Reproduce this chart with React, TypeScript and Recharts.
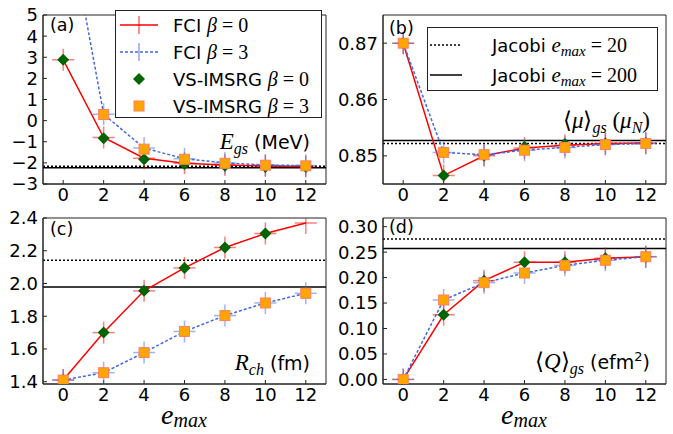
import React from 'react';
import { LineChart, Line, XAxis, YAxis, ReferenceLine, ReferenceArea, Legend } from 'recharts';

const emax = [0, 2, 4, 6, 8, 10, 12];

// (a) E_gs (MeV)
const egsFci0 = [2.88, -0.8, -1.78, -2.02, -2.1, -2.15, -2.17];
const egsFci3 = [10.7, 0.3, -1.3, -1.8, -2.0, -2.1, -2.13];
const egsIm0 = [2.88, -0.83, -1.83, -2.05, -2.14, -2.19, -2.19];
const egsIm3 = [10.7, 0.29, -1.35, -1.83, -2.02, -2.11, -2.14];
const egsJacobi = [-2.16, -2.23];
const egsTicks = [-3, -2, -1, 0, 1, 2, 3, 4, 5];

// (b) <mu>_gs (mu_N)
const muFci0 = [0.87, 0.8465, 0.85, 0.8514, 0.8519, 0.8522, 0.8523];
const muFci3 = [0.87, 0.8506, 0.8502, 0.851, 0.8515, 0.852, 0.8522];
const muIm0 = [0.87, 0.8465, 0.85, 0.8516, 0.8521, 0.8522, 0.8523];
const muIm3 = [0.87, 0.8506, 0.8502, 0.851, 0.8515, 0.852, 0.8522];
const muJacobi = [0.8522, 0.8527];
const muTicks = [0.85, 0.86, 0.87];

// (c) R_ch (fm)
const rchFci0 = [1.41, 1.7, 1.955, 2.095, 2.22, 2.305, 2.37];
const rchFci3 = [1.41, 1.455, 1.578, 1.707, 1.804, 1.881, 1.94];
const rchIm0 = [1.41, 1.7, 1.955, 2.095, 2.22, 2.305, null];
const rchIm3 = [1.41, 1.455, 1.578, 1.707, 1.804, 1.881, 1.94];
const rchJacobi = [2.142, 1.978];
const rchTicks = [1.4, 1.6, 1.8, 2.0, 2.2, 2.4];

// (d) <Q>_gs (efm^2)
const qFci0 = [0, 0.127, 0.194, 0.23, 0.23, 0.238, 0.241];
const qFci3 = [0, 0.156, 0.19, 0.209, 0.224, 0.234, 0.241];
const qIm0 = [0, 0.127, 0.194, 0.23, 0.23, 0.238, 0.241];
const qIm3 = [0, 0.156, 0.19, 0.209, 0.224, 0.234, 0.241];
const qJacobi = [0.276, 0.257];
const qTicks = [0, 0.05, 0.1, 0.15, 0.2, 0.25, 0.3];

const RED = '#ff0000';
const BLUE = '#4169e1';
const GREEN = '#006400';
const ORANGE = '#ffa500';
const SANS = 'DejaVu Sans';
const SERIF = 'Liberation Serif';

const crossDot = (color: string) => (props: any) => {
  const { cx, cy } = props;
  if (cx == null || cy == null || isNaN(cx) || isNaN(cy)) return <g key={props.key} />;
  return (
    <g key={props.key}>
      <line x1={cx - 11} x2={cx + 11} y1={cy} y2={cy} stroke={color} strokeOpacity={0.5} strokeWidth={1.5} />
      <line x1={cx} x2={cx} y1={cy - 11} y2={cy + 11} stroke={color} strokeOpacity={0.5} strokeWidth={1.5} />
    </g>
  );
};

const diamondDot = (props: any) => {
  const { cx, cy } = props;
  if (cx == null || cy == null || isNaN(cx) || isNaN(cy)) return <g key={props.key} />;
  return (
    <polygon
      key={props.key}
      points={`${cx},${cy - 6} ${cx + 6},${cy} ${cx},${cy + 6} ${cx - 6},${cy}`}
      fill={GREEN}
    />
  );
};

const squareDot = (props: any) => {
  const { cx, cy } = props;
  if (cx == null || cy == null || isNaN(cx) || isNaN(cy)) return <g key={props.key} />;
  return <rect key={props.key} x={cx - 5} y={cy - 5} width={10} height={10} fill={ORANGE} stroke="#ff8060" strokeWidth={1} />;
};

function FciLegend() {
  const rows = [
    { label: 'FCI ', b: '0', kind: 'red' },
    { label: 'FCI ', b: '3', kind: 'blue' },
    { label: 'VS-IMSRG ', b: '0', kind: 'green' },
    { label: 'VS-IMSRG ', b: '3', kind: 'orange' },
  ];
  return (
    <svg width={207} height={108}>
      <rect x={0.5} y={0.5} width={206} height={107} fill="#fff" stroke="#222" />
      {rows.map((r, i) => {
        const y = 15 + i * 27;
        return (
          <g key={i}>
            {r.kind === 'red' && (
              <g>
                <line x1={5} x2={43} y1={y} y2={y} stroke={RED} strokeWidth={1.5} />
                <line x1={24} x2={24} y1={y - 9} y2={y + 9} stroke={RED} strokeOpacity={0.6} strokeWidth={1.5} />
              </g>
            )}
            {r.kind === 'blue' && (
              <g>
                <line x1={5} x2={43} y1={y} y2={y} stroke={BLUE} strokeWidth={1.5} strokeDasharray="3 2" />
                <line x1={24} x2={24} y1={y - 9} y2={y + 9} stroke={BLUE} strokeOpacity={0.6} strokeWidth={1.5} />
              </g>
            )}
            {r.kind === 'green' && diamondDot({ cx: 24, cy: y })}
            {r.kind === 'orange' && squareDot({ cx: 24, cy: y })}
            <text x={58} y={y + 6.5} fontSize={18} fontFamily={SANS} fill="#000">
              {r.label}
              <tspan fontFamily={SERIF} fontStyle="italic" fontSize={20}>β</tspan>
              <tspan fontFamily={SERIF} fontSize={20}>{' = ' + r.b}</tspan>
            </text>
          </g>
        );
      })}
    </svg>
  );
}

function JacobiLegend() {
  const rows = [
    { n: '20', dash: '2 2' },
    { n: '200', dash: undefined },
  ];
  return (
    <svg width={231} height={64}>
      <rect x={0.5} y={0.5} width={230} height={63} fill="#fff" stroke="#222" />
      {rows.map((r, i) => {
        const y = 18 + i * 30;
        return (
          <g key={i}>
            <line x1={3} x2={35} y1={y} y2={y} stroke="#000" strokeWidth={1.5} strokeDasharray={r.dash} />
            <text x={65} y={y + 6.5} fontSize={18} fontFamily={SANS} fill="#000">
              {'Jacobi '}
              <tspan fontFamily={SERIF} fontStyle="italic" fontSize={21}>e</tspan>
              <tspan fontFamily={SERIF} fontStyle="italic" fontSize={15} dy={4}>max</tspan>
              <tspan fontFamily={SERIF} fontSize={20} dy={-4}>{' = ' + r.n}</tspan>
            </text>
          </g>
        );
      })}
    </svg>
  );
}

type PanelProps = {
  left: number;
  top: number;
  width: number;
  height: number;
  yAxisWidth: number;
  margin: { top: number; right: number; bottom: number; left: number };
  fci0: (number | null)[];
  fci3: (number | null)[];
  im0: (number | null)[];
  im3: (number | null)[];
  jacobi: number[];
  yDomain: [number, number];
  yTicks: number[];
  fmt: (v: number) => string;
  legend?: React.ReactNode;
  legendPos?: { left: number; top: number; width: number; height: number };
};

const tickStyle = { fontSize: 18, fill: '#000', fontFamily: SANS };

function Panel(p: PanelProps) {
  const data = emax.map((x, i) => ({ x, fci0: p.fci0[i], fci3: p.fci3[i], im0: p.im0[i], im3: p.im3[i] }));
  return (
    <div style={{ position: 'absolute', left: p.left, top: p.top }}>
      <LineChart width={p.width} height={p.height} data={data} margin={p.margin}>
        <XAxis
          type="number"
          dataKey="x"
          domain={[-1, 13]}
          ticks={emax}
          interval={0}
          height={16}
          tickSize={-4}
          tickMargin={8}
          tick={tickStyle}
          axisLine={{ stroke: '#222' }}
          tickLine={{ stroke: '#222' }}
        />
        <YAxis
          type="number"
          domain={p.yDomain}
          ticks={p.yTicks}
          allowDataOverflow
          interval={0}
          width={p.yAxisWidth}
          tickSize={-4}
          tickMargin={9}
          tick={tickStyle}
          tickFormatter={p.fmt}
          axisLine={{ stroke: '#222' }}
          tickLine={{ stroke: '#222' }}
        />
        <ReferenceArea x1={-1} x2={13} y1={p.yDomain[0]} y2={p.yDomain[1]} fill="none" stroke="#222" ifOverflow="visible" />
        <ReferenceLine y={p.jacobi[0]} stroke="#000" strokeWidth={1.5} strokeDasharray="2 2" />
        <ReferenceLine y={p.jacobi[1]} stroke="#000" strokeWidth={1.5} />
        <Line dataKey="fci0" stroke={RED} strokeWidth={1.5} dot={crossDot(RED)} activeDot={false} isAnimationActive={false} />
        <Line dataKey="fci3" stroke={BLUE} strokeWidth={1.5} strokeDasharray="3 2" dot={crossDot(BLUE)} activeDot={false} isAnimationActive={false} />
        <Line dataKey="im0" stroke="none" dot={diamondDot} activeDot={false} isAnimationActive={false} />
        <Line dataKey="im3" stroke="none" dot={squareDot} activeDot={false} isAnimationActive={false} />
        {p.legend && p.legendPos && (
          <Legend
            layout="vertical"
            align="center"
            verticalAlign="middle"
            content={() => p.legend}
            wrapperStyle={{ left: p.legendPos.left, top: p.legendPos.top, width: p.legendPos.width, height: p.legendPos.height }}
          />
        )}
      </LineChart>
    </div>
  );
}

const fmtInt = (v: number) => (v < 0 ? '\u2212' + Math.abs(v) : String(v));

export default function App() {
  const topMargin = { top: 15, right: 14, bottom: 10, left: 0 };
  const topMarginR = { top: 15, right: 7, bottom: 10, left: 0 };
  const botMargin = { top: 18, right: 14, bottom: 34, left: 0 };
  const botMarginR = { top: 18, right: 7, bottom: 34, left: 0 };
  return (
    <div style={{ position: 'absolute', left: 0, top: 0, width: 673, height: 434, background: '#fff', overflow: 'hidden' }}>
      <Panel
        left={0} top={0} width={340} height={210} yAxisWidth={43} margin={topMargin}
        fci0={egsFci0} fci3={egsFci3} im0={egsIm0} im3={egsIm3} jacobi={egsJacobi}
        yDomain={[-3, 5]} yTicks={egsTicks} fmt={fmtInt}
        legend={<FciLegend />} legendPos={{ left: 115, top: 10, width: 207, height: 108 }}
      />
      <Panel
        left={330} top={0} width={343} height={210} yAxisWidth={53} margin={topMarginR}
        fci0={muFci0} fci3={muFci3} im0={muIm0} im3={muIm3} jacobi={muJacobi}
        yDomain={[0.845, 0.875]} yTicks={muTicks} fmt={(v) => v.toFixed(2)}
        legend={<JacobiLegend />} legendPos={{ left: 97, top: 27, width: 231, height: 64 }}
      />
      <Panel
        left={0} top={200} width={340} height={234} yAxisWidth={43} margin={botMargin}
        fci0={rchFci0} fci3={rchFci3} im0={rchIm0} im3={rchIm3} jacobi={rchJacobi}
        yDomain={[1.386, 2.4]} yTicks={rchTicks} fmt={(v) => v.toFixed(1)}
      />
      <Panel
        left={330} top={200} width={343} height={234} yAxisWidth={53} margin={botMarginR}
        fci0={qFci0} fci3={qFci3} im0={qIm0} im3={qIm3} jacobi={qJacobi}
        yDomain={[-0.009, 0.317]} yTicks={qTicks} fmt={(v) => v.toFixed(2)}
      />
      <svg width={673} height={434} style={{ position: 'absolute', left: 0, top: 0, pointerEvents: 'none' }}>
        <g fontFamily={SANS} fontSize={17.5} fill="#000">
          <text x={50} y={31}>(a)</text>
          <text x={389} y={34}>(b)</text>
          <text x={50} y={235}>(c)</text>
          <text x={389} y={233}>(d)</text>
        </g>
        <g fontFamily={SANS} fontSize={19} fill="#000">
          <text x={310} y={149} textAnchor="end">
            <tspan fontFamily={SERIF} fontStyle="italic" fontSize={23}>E</tspan>
            <tspan fontFamily={SERIF} fontStyle="italic" fontSize={16} dy={5}>gs</tspan>
            <tspan dy={-5}>{'  (MeV)'}</tspan>
          </text>
          <text x={650} y={128} textAnchor="end">
            <tspan fontFamily={SERIF} fontSize={23}>{'\u27E8'}</tspan>
            <tspan fontFamily={SERIF} fontStyle="italic" fontSize={23}>μ</tspan>
            <tspan fontFamily={SERIF} fontSize={23}>{'\u27E9'}</tspan>
            <tspan fontFamily={SERIF} fontStyle="italic" fontSize={16} dy={5}>gs</tspan>
            <tspan fontFamily={SERIF} fontSize={23} dy={-5}>{'  ('}</tspan>
            <tspan fontFamily={SERIF} fontStyle="italic" fontSize={23}>μ</tspan>
            <tspan fontFamily={SERIF} fontStyle="italic" fontSize={16} dy={5}>N</tspan>
            <tspan fontFamily={SERIF} fontSize={23} dy={-5}>)</tspan>
          </text>
          <text x={310} y={370} textAnchor="end">
            <tspan fontFamily={SERIF} fontStyle="italic" fontSize={23}>R</tspan>
            <tspan fontFamily={SERIF} fontStyle="italic" fontSize={16} dy={5}>ch</tspan>
            <tspan dy={-5}>{'  (fm)'}</tspan>
          </text>
          <text x={650} y={369} textAnchor="end">
            <tspan fontFamily={SERIF} fontSize={23}>{'\u27E8'}</tspan>
            <tspan fontFamily={SERIF} fontStyle="italic" fontSize={23}>Q</tspan>
            <tspan fontFamily={SERIF} fontSize={23}>{'\u27E9'}</tspan>
            <tspan fontFamily={SERIF} fontStyle="italic" fontSize={16} dy={5}>gs</tspan>
            <tspan dy={-5}>{'  (efm'}</tspan>
            <tspan fontSize={13} dy={-8}>2</tspan>
            <tspan dy={8}>)</tspan>
          </text>
        </g>
        <g fontFamily={SERIF} fontStyle="italic" fill="#000">
          <text x={184} y={424} textAnchor="middle">
            <tspan fontSize={28}>e</tspan>
            <tspan fontSize={20} dy={3}>max</tspan>
          </text>
          <text x={524} y={424} textAnchor="middle">
            <tspan fontSize={28}>e</tspan>
            <tspan fontSize={20} dy={3}>max</tspan>
          </text>
        </g>
      </svg>
    </div>
  );
}
